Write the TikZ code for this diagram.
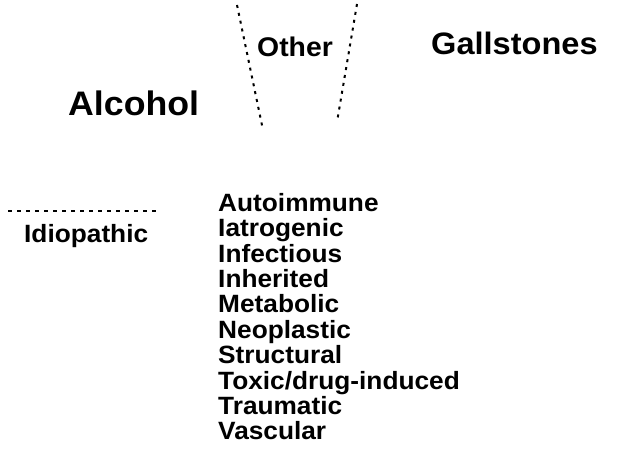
\documentclass[tikz,border=0pt]{standalone}
\usepackage{fontspec}
\setmainfont{Liberation Sans}[FakeStretch=1.05,BoldFeatures={FakeStretch=1.05}]
\begin{document}
\begin{tikzpicture}[x=1pt,y=-1pt,
  lbl/.style={anchor=base west,inner sep=0pt,font=\bfseries},
  big/.style={lbl,font=\fontsize{34}{34}\selectfont\bfseries},
  gbig/.style={lbl,font=\fontsize{31}{31}\selectfont\bfseries},
  mid/.style={lbl,font=\fontsize{27}{27}\selectfont\bfseries},
  small/.style={lbl,font=\fontsize{25}{25.4}\selectfont\bfseries},
  dots/.style={line width=2pt,dash pattern=on 3pt off 5pt},
  dashline/.style={line width=2pt,dash pattern=on 4pt off 5pt}]
\useasboundingbox (0,0) rectangle (621,460);
% labels
\node[big] (alcohol) at (68,115) {Alcohol};
\node[gbig] (gall) at (431,55) {Gallstones};
\node[mid] (other) at (257,57) {Other};
\node[small] (idio) at (24,242) {Idiopathic};
\node[small,align=left,anchor=north west] (list) at (218,193) {Autoimmune\\Iatrogenic\\Infectious\\Inherited\\Metabolic\\Neoplastic\\Structural\\Toxic/drug-induced\\Traumatic\\Vascular};
% dotted boundaries
\coordinate (l1) at (237,5);
\coordinate (l2) at (263,130);
\coordinate (r1) at (357,4);
\coordinate (r2) at (337,122);
\coordinate (i1) at (8,211);
\coordinate (i2) at (158,211);
\draw[dots] (l1) -- (l2);
\draw[dots] (r1) -- (r2);
\draw[dashline] (i1) -- (i2);
\end{tikzpicture}
\end{document}
